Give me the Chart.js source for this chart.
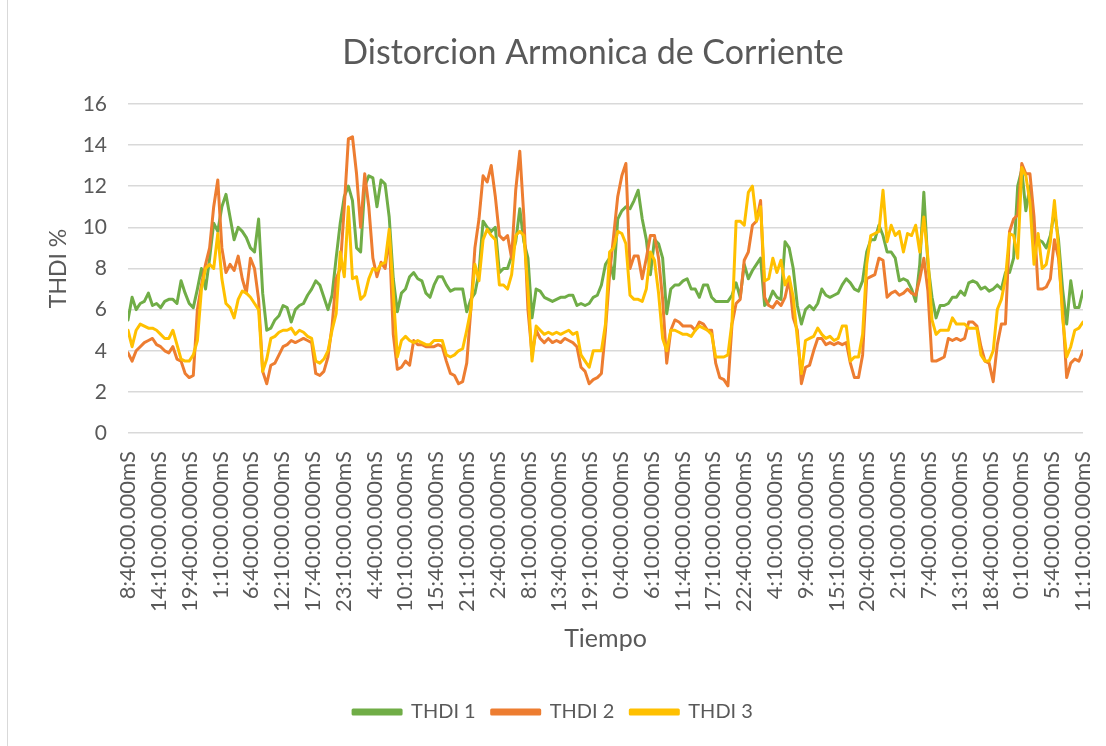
<!DOCTYPE html>
<html>
<head>
<meta charset="utf-8">
<title>Distorcion Armonica de Corriente</title>
<script src="https://cdn.jsdelivr.net/npm/chart.js@4.4.1/dist/chart.umd.min.js"></script>
<style>
    html, body { margin: 0; padding: 0; background: #fff; }
    #wrap { position: relative; width: 1106px; height: 746px; }
    #borde { position: absolute; left: 7px; top: 0; width: 1px; height: 746px; background: #d9d9d9; }
    canvas { display: block; position: absolute; left: 0; top: 0; }
</style>
</head>
<body>
<div id="wrap"><div id="borde"></div><canvas id="grafico-thdi" width="1106" height="746"></canvas></div>
<script>
// Etiquetas del eje X (una cada 5,5 h)
const etiquetasX = [
    '8:40:00.000mS', '14:10:00.000mS', '19:40:00.000mS', '1:10:00.000mS', '6:40:00.000mS',
    '12:10:00.000mS', '17:40:00.000mS', '23:10:00.000mS', '4:40:00.000mS', '10:10:00.000mS',
    '15:40:00.000mS', '21:10:00.000mS', '2:40:00.000mS', '8:10:00.000mS', '13:40:00.000mS',
    '19:10:00.000mS', '0:40:00.000mS', '6:10:00.000mS', '11:40:00.000mS', '17:10:00.000mS',
    '22:40:00.000mS', '4:10:00.000mS', '9:40:00.000mS', '15:10:00.000mS', '20:40:00.000mS',
    '2:10:00.000mS', '7:40:00.000mS', '13:10:00.000mS', '18:40:00.000mS', '0:10:00.000mS',
    '5:40:00.000mS', '11:10:00.000mS'
];

// Etiquetas del eje Y
const ticksY = [0, 2, 4, 6, 8, 10, 12, 14, 16];

// THDI 1 (verde) - lecturas equiespaciadas de principio a fin
const thdi1 = [
    5.5, 6.6, 6.0, 6.3, 6.4, 6.8, 6.2, 6.3, 6.1, 6.4, 6.5, 6.5,
    6.3, 7.4, 6.8, 6.3, 6.1, 7.0, 8.0, 7.0, 8.5, 10.2, 9.8, 11.0,
    11.6, 10.5, 9.4, 10.0, 9.8, 9.5, 9.0, 8.8, 10.4, 6.8, 5.0,
    5.1, 5.5, 5.7, 6.2, 6.1, 5.4, 6.0, 6.2, 6.3, 6.7, 7.0, 7.4,
    7.2, 6.6, 6.0, 6.7, 8.5, 10.2, 11.5, 12.0, 11.3, 9.0, 8.8, 12.0,
    12.5, 12.4, 11.0, 12.3, 12.1, 10.5, 7.5, 5.9, 6.8, 7.0, 7.6, 7.8,
    7.5, 7.4, 6.8, 6.6,
    7.2, 7.6, 7.6, 7.2, 6.9, 7.0, 7.0, 7.0, 5.9, 6.5, 6.8, 7.8,
    10.3, 10.0, 9.8, 10.0, 7.8, 8.0, 8.0, 8.6, 9.3, 10.9, 9.3, 8.5,
    5.6, 7.0, 6.9, 6.6, 6.5, 6.4, 6.5, 6.6, 6.6, 6.7, 6.7, 6.2,
    6.3, 6.2, 6.3,
    6.6, 6.7, 7.2, 8.2, 8.5, 7.5, 10.4, 10.8, 11.0, 10.9, 11.3, 11.8,
    10.4, 9.4, 7.7, 9.4, 9.2, 8.5, 5.8, 7.0, 7.2, 7.2, 7.4, 7.5,
    7.0, 7.0, 6.6, 7.2, 7.2, 6.6, 6.4, 6.4, 6.4, 6.4, 6.7, 7.3,
    6.6, 8.2, 7.5,
    7.9, 8.2, 8.5, 6.2, 6.4, 6.9, 6.6, 6.5, 9.3, 9.0, 8.0, 6.2,
    5.3, 6.0, 6.2, 6.0, 6.3, 7.0, 6.7, 6.6, 6.7, 6.8, 7.2, 7.5,
    7.3, 7.0, 6.9, 7.4, 8.8, 9.4, 9.4, 10.1, 9.6, 8.8, 8.8, 8.5,
    7.4, 7.5, 7.4,
    7.0, 6.4, 8.2, 11.7, 8.2, 6.6, 5.6, 6.2, 6.2, 6.3, 6.6, 6.6,
    6.9, 6.7, 7.3, 7.4, 7.3, 7.0, 7.1, 6.9, 7.0, 7.2, 7.0, 7.8,
    7.8, 8.5, 12.0, 12.8, 10.8, 12.0, 9.4, 9.4, 9.3, 9.0, 9.6, 10.8,
    9.4, 7.0, 5.3, 7.4, 6.1, 6.1, 6.9
];

// THDI 2 (naranja)
const thdi2 = [
    3.9, 3.5, 4.0, 4.2, 4.4, 4.5, 4.6, 4.3, 4.2, 4.0, 3.9, 4.2,
    3.6, 3.5, 2.9, 2.7, 2.8, 6.0, 7.2, 8.2, 9.0, 11.0, 12.3, 9.0,
    7.8, 8.2, 7.9, 8.6, 7.5, 6.8, 8.5, 8.0, 6.5, 3.0, 2.4,
    3.3, 3.4, 3.8, 4.2, 4.3, 4.5, 4.4, 4.5, 4.6, 4.5, 4.4, 2.9,
    2.8, 3.0, 3.7, 5.2, 7.5, 8.0, 11.0, 14.3, 14.4, 12.6, 10.0, 12.6,
    11.0, 8.5, 7.6, 8.3, 8.0, 9.6, 4.8, 3.1, 3.2, 3.5, 3.3, 4.5,
    4.3, 4.3, 4.2, 4.2,
    4.2, 4.3, 4.2, 3.5, 2.9, 2.8, 2.4, 2.5, 3.4, 6.0, 9.0, 10.4,
    12.5, 12.2, 13.0, 11.5, 9.6, 9.4, 9.6, 8.5, 11.8, 13.7, 10.5, 6.0,
    3.8, 5.0, 4.6, 4.4, 4.6, 4.4, 4.5, 4.4, 4.6, 4.5, 4.4, 4.2,
    3.2, 3.0, 2.4,
    2.6, 2.7, 2.9, 5.0, 7.7, 9.6, 11.5, 12.5, 13.1, 8.0, 8.6, 8.6,
    7.5, 8.5, 9.6, 9.6, 8.5, 6.5, 3.4, 5.0, 5.5, 5.4, 5.2, 5.2,
    5.2, 5.0, 5.4, 5.3, 5.0, 5.0, 3.4, 2.7, 2.6, 2.3, 5.3, 6.3,
    6.5, 8.4, 8.8,
    10.1, 10.3, 11.3, 6.6, 6.2, 6.1, 6.4, 6.2, 6.6, 7.5, 5.6, 5.0,
    2.4, 3.2, 3.3, 4.0, 4.6, 4.6, 4.3, 4.4, 4.3, 4.4, 4.3, 4.4,
    3.4, 2.7, 2.7, 3.8, 7.5, 7.6, 7.7, 8.5, 8.4, 6.6, 6.8, 6.9,
    6.7, 6.8, 7.0,
    6.8, 6.7, 7.5, 8.5, 6.9, 3.5, 3.5, 3.6, 3.7, 4.6, 4.5, 4.6,
    4.5, 4.6, 5.4, 5.4, 5.2, 4.2, 3.5, 3.4, 2.5, 4.3, 5.3, 5.3,
    9.8, 10.4, 10.6, 13.1, 12.6, 12.6, 10.5, 7.0, 7.0, 7.1, 7.5, 9.4,
    8.5, 6.0, 2.7, 3.4, 3.6, 3.5, 4.0
];

// THDI 3 (amarillo)
const thdi3 = [
    5.0, 4.2, 5.0, 5.3, 5.2, 5.1, 5.1, 5.0, 4.8, 4.6, 4.6, 5.0,
    4.3, 3.6, 3.5, 3.5, 3.8, 4.5, 7.0, 8.0, 8.2, 8.0, 9.7, 7.5,
    6.3, 6.1, 5.6, 6.5, 6.9, 6.8, 6.6, 6.3, 6.0, 3.0, 3.6,
    4.6, 4.7, 4.9, 5.0, 5.0, 5.1, 4.8, 5.0, 4.9, 4.7, 4.6, 3.5,
    3.4, 3.6, 4.0, 5.0, 5.8, 8.8, 7.6, 11.0, 7.5, 7.6, 6.5, 6.7,
    7.5, 8.0, 7.9, 8.2, 8.3, 9.9, 6.8, 3.7, 4.5, 4.7, 4.5, 4.4,
    4.5, 4.4, 4.3, 4.3,
    4.5, 4.5, 4.5, 3.8, 3.7, 3.8, 4.0, 4.1, 5.0, 6.0, 8.2, 7.4,
    9.4, 9.9, 9.6, 9.4, 7.2, 7.2, 7.0, 7.7, 9.6, 9.8, 9.6, 7.0,
    3.5, 5.2, 5.0, 4.8, 4.9, 4.8, 4.9, 4.8, 4.9, 5.0, 4.8, 4.9,
    3.8, 3.5, 3.2,
    4.0, 4.0, 4.0, 5.3, 8.8, 9.0, 9.8, 9.7, 9.2, 6.7, 6.5, 6.5,
    6.4, 7.0, 8.8, 8.4, 6.8, 4.6, 4.0, 5.0, 5.0, 4.9, 4.8, 4.8,
    4.7, 5.0, 5.2, 5.1, 5.0, 4.8, 3.7, 3.7, 3.7, 3.8, 5.4, 10.3,
    10.3, 10.1, 11.7,
    12.0, 10.3, 11.0, 7.4, 7.5, 8.5, 7.8, 8.4, 7.2, 7.6, 6.6, 4.6,
    2.9, 4.5, 4.6, 4.7, 5.1, 4.8, 4.6, 4.7, 4.5, 4.6, 5.2, 5.2,
    3.5, 3.7, 3.7, 4.8, 8.2, 9.6, 9.7, 9.8, 11.8, 9.3, 10.1, 9.6,
    9.8, 8.8, 9.7,
    9.6, 10.1, 8.8, 10.5, 8.5, 5.5, 4.8, 5.0, 5.0, 5.0, 5.6, 5.3,
    5.3, 5.3, 5.1, 5.1, 5.1, 3.8, 3.5, 3.5, 4.0, 6.0, 6.5, 7.5,
    9.7, 9.6, 8.5, 12.9, 12.5, 11.2, 8.2, 9.7, 8.0, 8.2, 9.3, 11.3,
    9.0, 5.6, 3.7, 4.2, 5.0, 5.1, 5.4
];

// Posicion de cada lectura en unidades de intervalo entre etiquetas
const intervalos = etiquetasX.length - 1;
function aPuntos(serie) {
    return serie.map((v, i) => ({ x: i * intervalos / (serie.length - 1), y: v }));
}

const gris = '#595959';
const fuente = 'Lato, "Open Sans", sans-serif';

// El titulo de Excel no queda centrado en el lienzo, lo movemos un poco a la derecha
const centroTitulo = 593;
const moverTitulo = {
    id: 'moverTitulo',
    afterLayout(chart) {
        const t = chart.titleBlock;
        if (!t) return;
        const dx = centroTitulo - (t.left + t.right) / 2;
        t.left += dx;
        t.right += dx;
    }
};

new Chart(document.getElementById('grafico-thdi').getContext('2d'), {
    type: 'line',
    data: {
        datasets: [
            { label: 'THDI 1', data: aPuntos(thdi1), borderColor: '#70AD47', backgroundColor: '#70AD47', order: 2 },
            { label: 'THDI 2', data: aPuntos(thdi2), borderColor: '#ED7D31', backgroundColor: '#ED7D31', order: 1 },
            { label: 'THDI 3', data: aPuntos(thdi3), borderColor: '#FFC000', backgroundColor: '#FFC000', order: 0 }
        ]
    },
    plugins: [moverTitulo],
    options: {
        responsive: false,
        animation: false,
        layout: { padding: { top: 10, left: 0, right: 0, bottom: 14 } },
        elements: {
            line: { borderWidth: 3, tension: 0, borderJoinStyle: 'round', borderCapStyle: 'round' },
            point: { radius: 0, hoverRadius: 0 }
        },
        scales: {
            x: {
                type: 'linear',
                min: 0,
                max: intervalos,
                afterBuildTicks: axis => { axis.ticks = etiquetasX.map((_, k) => ({ value: k })); },
                afterFit: axis => { axis.paddingLeft = 0; axis.paddingRight = 23; },
                grid: { display: false },
                border: { display: false },
                ticks: {
                    autoSkip: false,
                    minRotation: 90,
                    maxRotation: 90,
                    padding: 10,
                    color: gris,
                    font: { family: fuente, size: 22 },
                    callback: value => etiquetasX[Math.round(value)]
                },
                title: {
                    display: true,
                    text: 'Tiempo',
                    color: gris,
                    font: { family: fuente, size: 25 },
                    padding: { top: 2, bottom: 32 }
                }
            },
            y: {
                min: 0,
                max: 16,
                afterBuildTicks: axis => { axis.ticks = ticksY.map(v => ({ value: v })); },
                afterFit: axis => { axis.width = 128; },
                grid: { color: '#d9d9d9', lineWidth: 1.5, drawTicks: false },
                border: { display: false },
                ticks: {
                    padding: 21,
                    color: gris,
                    font: { family: fuente, size: 21 }
                },
                title: {
                    display: true,
                    text: 'THDI %',
                    color: gris,
                    font: { family: fuente, size: 23 },
                    padding: { top: 45, bottom: 0 }
                }
            }
        },
        plugins: {
            title: {
                display: true,
                text: 'Distorcion Armonica de Corriente',
                color: gris,
                font: { family: fuente, size: 34, weight: 'normal' },
                padding: { top: 23, bottom: 30 }
            },
            legend: {
                position: 'bottom',
                labels: {
                    boxWidth: 48,
                    boxHeight: 4,
                    color: gris,
                    padding: 16,
                    font: { family: fuente, size: 20 },
                    sort: (a, b) => a.datasetIndex - b.datasetIndex
                }
            },
            tooltip: { enabled: false }
        }
    }
});
</script>
</body>
</html>
